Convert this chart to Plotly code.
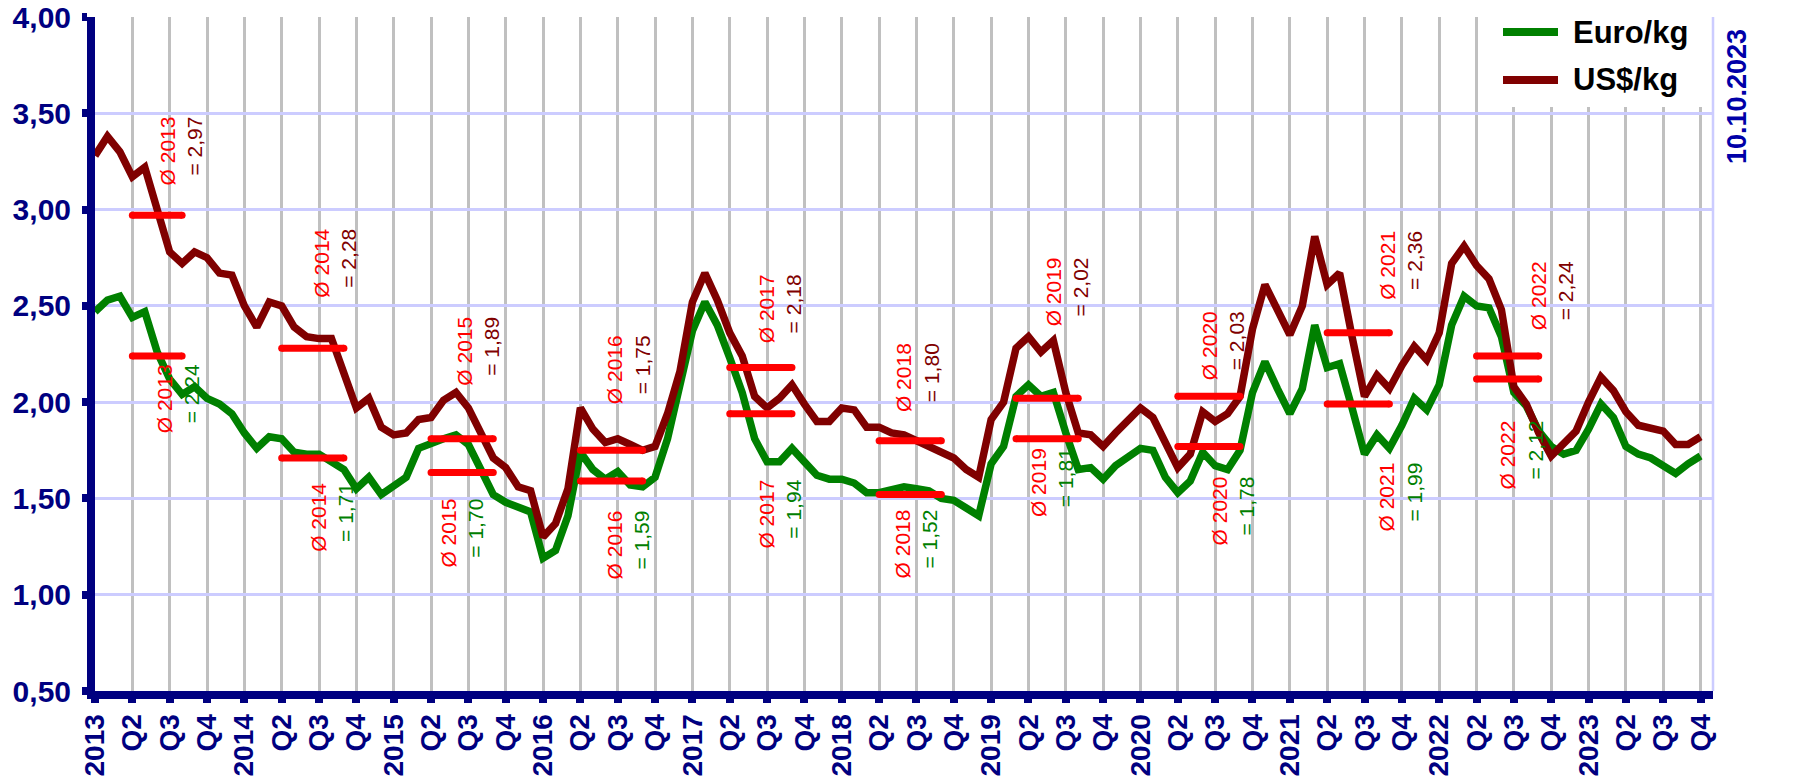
import plotly.graph_objects as go

# ---------------- data ----------------
tick_text = []
for yr in range(2013, 2024):
    tick_text += [str(yr), "Q2", "Q3", "Q4"]
tick_vals = list(range(0, 130, 3))

euro = [2.47, 2.53, 2.55, 2.44, 2.47, 2.26, 2.12, 2.04, 2.08, 2.02, 1.99, 1.94,
        1.84, 1.76, 1.82, 1.81, 1.74, 1.73, 1.73, 1.69, 1.65, 1.55, 1.61, 1.52,
        1.56, 1.61, 1.76, 1.79, 1.81, 1.83, 1.78, 1.65, 1.52, 1.48, 1.45, 1.43,
        1.19, 1.23, 1.41, 1.74, 1.65, 1.60, 1.64, 1.57, 1.56, 1.61, 1.81, 2.09,
        2.37, 2.52, 2.40, 2.23, 2.05, 1.81, 1.69, 1.69, 1.76, 1.69, 1.62, 1.60,
        1.60, 1.58, 1.53, 1.53, 1.55, 1.56, 1.55, 1.54, 1.50, 1.49, 1.45, 1.41,
        1.68, 1.77, 2.03, 2.09, 2.03, 2.05, 1.84, 1.65, 1.66, 1.60, 1.67, 1.72,
        1.76, 1.75, 1.61, 1.53, 1.59, 1.74, 1.67, 1.65, 1.75, 2.05, 2.21, 2.07,
        1.94, 2.07, 2.40, 2.18, 2.20, 1.97, 1.73, 1.83, 1.76, 1.88, 2.02, 1.96,
        2.09, 2.40, 2.55, 2.50, 2.49, 2.34, 2.05, 1.98, 1.85, 1.77, 1.73, 1.75,
        1.86, 1.99, 1.92, 1.77, 1.73, 1.71, 1.67, 1.63, 1.68, 1.72]

usd = [3.28, 3.38, 3.30, 3.17, 3.22, 3.00, 2.78, 2.72, 2.78, 2.75, 2.67, 2.66,
       2.50, 2.39, 2.52, 2.50, 2.39, 2.34, 2.33, 2.33, 2.15, 1.97, 2.02, 1.87,
       1.83, 1.84, 1.91, 1.92, 2.01, 2.05, 1.97, 1.84, 1.71, 1.66, 1.56, 1.54,
       1.30, 1.37, 1.55, 1.97, 1.86, 1.79, 1.81, 1.78, 1.75, 1.77, 1.94, 2.16,
       2.52, 2.67, 2.53, 2.36, 2.24, 2.03, 1.97, 2.02, 2.09, 1.99, 1.90, 1.90,
       1.97, 1.96, 1.87, 1.87, 1.84, 1.83, 1.80, 1.77, 1.75, 1.71, 1.65, 1.61,
       1.91, 2.00, 2.28, 2.34, 2.26, 2.32, 2.05, 1.84, 1.83, 1.77, 1.84, 1.91,
       1.97, 1.92, 1.78, 1.66, 1.73, 1.95, 1.90, 1.94, 2.03, 2.38, 2.61, 2.48,
       2.35, 2.50, 2.86, 2.61, 2.67, 2.34, 2.03, 2.14, 2.07, 2.19, 2.29, 2.22,
       2.36, 2.72, 2.81, 2.71, 2.64, 2.48, 2.08, 1.99, 1.84, 1.72, 1.78, 1.85,
       2.00, 2.13, 2.06, 1.95, 1.88, 1.86, 1.85, 1.78, 1.78, 1.82]

months = list(range(len(euro)))

avg_years = [2013, 2014, 2015, 2016, 2017, 2018, 2019, 2020, 2021, 2022]
bar_start = [3, 15, 27, 39, 51, 63, 74, 87, 99, 111]
bar_end = [7, 20, 32, 44, 56, 68, 79, 92, 104, 116]
bar_usd = [2.97, 2.28, 1.81, 1.75, 2.18, 1.80, 2.02, 2.03, 2.36, 2.24]
bar_eur = [2.24, 1.71, 1.635, 1.59, 1.94, 1.52, 1.81, 1.77, 1.99, 2.12]
avg_usd_text = ["2,97", "2,28", "1,89", "1,75", "2,18", "1,80", "2,02", "2,03", "2,36", "2,24"]
avg_eur_text = ["2,24", "1,71", "1,70", "1,59", "1,94", "1,52", "1,81", "1,78", "1,99", "2,12"]

# label placement (month, value at the centre of the rotated label block)
lbl_us_x = [6.88, 19.31, 30.71, 42.84, 55.05, 66.06, 78.06, 90.63, 104.93, 117.06]
lbl_us_y = [3.305, 2.721, 2.263, 2.167, 2.483, 2.126, 2.573, 2.296, 2.713, 2.555]
lbl_eu_x = [6.62, 19.07, 29.51, 42.84, 55.05, 65.98, 76.94, 91.44, 104.85, 114.57]
lbl_eu_y = [2.017, 1.401, 1.319, 1.257, 1.417, 1.262, 1.583, 1.433, 1.510, 1.728]

# ---------------- style ----------------
W, H = 1804, 777
ML, MR, MT, MB = 95, 91, 17, 86
NAVY = "#000080"
GREEN = "#008000"
MAROON = "#800000"
RED = "#FF0000"
FONT = "Liberation Sans, Arial, sans-serif"


def px_x(px):
    return (px - ML) / (W - ML - MR)


def px_y(py):
    return (H - MB - py) / (H - MB - MT)


fig = go.Figure()
fig.add_trace(go.Scatter(x=months, y=euro, mode="lines", name="Euro/kg",
                         line=dict(color=GREEN, width=7.5), showlegend=False))
fig.add_trace(go.Scatter(x=months, y=usd, mode="lines", name="US$/kg",
                         line=dict(color=MAROON, width=7.5), showlegend=False))

for s, e, vu, ve in zip(bar_start, bar_end, bar_usd, bar_eur):
    for v in (vu, ve):
        fig.add_trace(go.Scatter(x=[s, e], y=[v, v], mode="lines+markers",
                                 line=dict(color=RED, width=7),
                                 marker=dict(color=RED, size=7),
                                 showlegend=False, hoverinfo="skip"))

annotations = []
for yr, tu, te, ux, uy, ex, ey in zip(avg_years, avg_usd_text, avg_eur_text,
                                      lbl_us_x, lbl_us_y, lbl_eu_x, lbl_eu_y):
    annotations.append(dict(
        x=ux, y=uy, xref="x", yref="y", xanchor="center", yanchor="middle",
        text=f"Ø {yr}<br><span style='color:{MAROON}'>= {tu}</span>",
        textangle=-90, align="right", showarrow=False, borderpad=0,
        font=dict(family=FONT, size=21, color=RED)))
    annotations.append(dict(
        x=ex, y=ey, xref="x", yref="y", xanchor="center", yanchor="middle",
        text=f"Ø {yr}<br><span style='color:{GREEN}'>= {te}</span>",
        textangle=-90, align="right", showarrow=False, borderpad=0,
        font=dict(family=FONT, size=21, color=RED)))

last_usd = f"${usd[-1]:.2f}".replace(".", ",")
last_eur = f"€{euro[-1]:.2f}".replace(".", ",")
annotations.append(dict(x=130.8, y=1.81, xref="x", yref="y",
                        xanchor="left", yanchor="middle", text=last_usd, showarrow=False,
                        font=dict(family=FONT, size=26, color=MAROON, weight="bold")))
annotations.append(dict(x=130.55, y=1.635, xref="x", yref="y",
                        xanchor="left", yanchor="middle", text=last_eur, showarrow=False,
                        font=dict(family=FONT, size=26, color=GREEN, weight="bold")))
annotations.append(dict(x=px_x(1737), y=px_y(96), xref="paper", yref="paper",
                        xanchor="center", yanchor="middle", text="10.10.2023",
                        textangle=-90, showarrow=False,
                        font=dict(family=FONT, size=27, color="#0000A8", weight="bold")))
# legend texts
annotations.append(dict(x=px_x(1571), y=px_y(32), xref="paper", yref="paper",
                        xanchor="left", yanchor="middle", text="Euro/kg", showarrow=False,
                        font=dict(family=FONT, size=31, color="black", weight="bold")))
annotations.append(dict(x=px_x(1571), y=px_y(80), xref="paper", yref="paper",
                        xanchor="left", yanchor="middle", text="US$/kg", showarrow=False,
                        font=dict(family=FONT, size=31, color="black", weight="bold")))

shapes = [
    # legend box
    dict(type="rect", xref="paper", yref="paper", x0=px_x(1493), x1=1.0,
         y0=px_y(107), y1=1.0, fillcolor="white", line=dict(width=0), layer="above"),
    # right frame line
    dict(type="line", xref="paper", yref="paper", x0=1.0, x1=1.0, y0=0, y1=1,
         line=dict(color="#CCCCFF", width=2.5), layer="above"),
    # legend samples
    dict(type="line", xref="paper", yref="paper", x0=px_x(1503), x1=px_x(1558),
         y0=px_y(32), y1=px_y(32), line=dict(color=GREEN, width=8), layer="above"),
    dict(type="line", xref="paper", yref="paper", x0=px_x(1503), x1=px_x(1558),
         y0=px_y(80), y1=px_y(80), line=dict(color=MAROON, width=8), layer="above"),
]

fig.update_layout(
    width=W, height=H,
    margin=dict(l=ML, r=MR, t=MT, b=MB, pad=0, autoexpand=False),
    paper_bgcolor="white", plot_bgcolor="white",
    separators=",.",
    showlegend=False,
    annotations=annotations,
    shapes=shapes,
    xaxis=dict(range=[0, 130.0], tickmode="array", tickvals=tick_vals, ticktext=tick_text,
               tickangle=-90, showline=True, linecolor=NAVY, linewidth=8,
               ticks="outside", ticklen=4, tickwidth=8, tickcolor=NAVY,
               automargin=False, ticklabelstandoff=0,
               showgrid=True, gridcolor="#C0C0C0", gridwidth=2.5, zeroline=False,
               tickfont=dict(family=FONT, size=28, color=NAVY, weight="bold")),
    yaxis=dict(range=[0.5, 4.0], dtick=0.5, tick0=0.5, tickformat=".2f",
               showline=True, linecolor=NAVY, linewidth=8,
               ticks="outside", ticklen=5, tickwidth=8, tickcolor=NAVY,
               automargin=False, ticklabelstandoff=5,
               showgrid=True, gridcolor="#CCCCFF", gridwidth=2.5, zeroline=False,
               tickfont=dict(family=FONT, size=30, color=NAVY, weight="bold")),
)

fig.write_html("out.html",
               config={"displayModeBar": False},
               post_script="document.body.style.margin='0';document.body.style.padding='0';"
                           "document.documentElement.style.overflow='hidden';")
